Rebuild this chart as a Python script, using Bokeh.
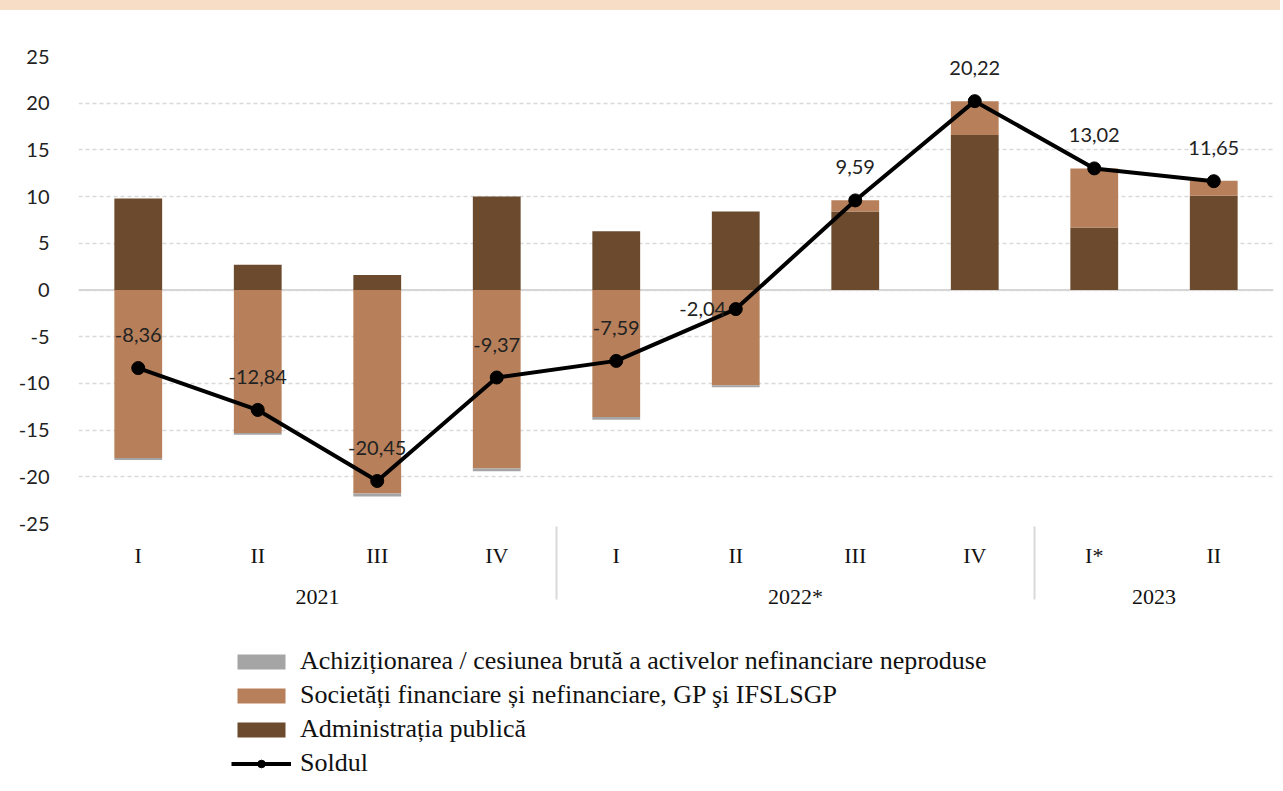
from bokeh.plotting import figure
from bokeh.models import (FactorRange, ColumnDataSource, FixedTicker, Span, Legend, LegendItem,
                          PrintfTickFormatter, Div, Range1d)
from bokeh.layouts import column
from bokeh.core.properties import value
from bokeh.embed import file_html
from bokeh.resources import INLINE

years = ["2021", "2021", "2021", "2021", "2022*", "2022*", "2022*", "2022*", "2023", "2023"]
quarters = ["I", "II", "III", "IV", "I", "II", "III", "IV", "I*", "II"]

achizitionarea = [-0.2, -0.2, -0.3, -0.3, -0.3, -0.2, 0.0, 0.0, 0.0, 0.0]
societati = [-18.0, -15.3, -21.8, -19.1, -13.6, -10.2, 1.2, 3.6, 6.3, 1.6]
administratia = [9.8, 2.7, 1.6, 10.0, 6.3, 8.4, 8.4, 16.6, 6.7, 10.1]
soldul = [-8.36, -12.84, -20.45, -9.37, -7.59, -2.04, 9.59, 20.22, 13.02, 11.65]

y_ticks = [-25, -20, -15, -10, -5, 0, 5, 10, 15, 20, 25]

names = ["Achiziționarea / cesiunea brută a activelor nefinanciare neproduse",
         "Societăți financiare și nefinanciare, GP şi IFSLSGP",
         "Administrația publică",
         "Soldul"]
colors = {"adm": "#6b4a2e", "soc": "#b7805a", "gray": "#a5a5a5"}

factors = list(zip(years, quarters))

series = [("adm", administratia), ("soc", societati), ("gray", achizitionarea)]
stack = {}
pos = [0.0] * len(factors)
neg = [0.0] * len(factors)
for key, vals in series:
    bottoms, tops = [], []
    for i, v in enumerate(vals):
        if v >= 0:
            bottoms.append(pos[i]); tops.append(pos[i] + v); pos[i] += v
        else:
            bottoms.append(neg[i]); tops.append(neg[i] + v); neg[i] += v
    stack[key] = (bottoms, tops)

W = 1280
p = figure(x_range=FactorRange(factors=factors, factor_padding=0, group_padding=0,
                               subgroup_padding=0, range_padding=0),
           y_range=(-25, 25), width=W, height=620, output_backend="svg",
           toolbar_location=None, min_border_left=78, min_border_right=7,
           min_border_top=46, min_border_bottom=107)
p.outline_line_color = None
p.background_fill_color = "white"
p.border_fill_color = "white"

p.add_layout(Span(location=0, dimension="width", line_color="#d6d6d6", line_width=2, level="underlay"))

renderers = {}
for key in ["adm", "soc", "gray"]:
    b, t = stack[key]
    src = ColumnDataSource(dict(x=factors, bottom=b, top=t))
    renderers[key] = p.vbar(x="x", bottom="bottom", top="top", width=0.4, source=src,
                            fill_color=colors[key], line_color=None)

src_line = ColumnDataSource(dict(x=factors, y=soldul))
lr = p.line(x="x", y="y", source=src_line, line_color="black", line_width=4)
cr = p.scatter(x="x", y="y", source=src_line, size=13, fill_color="black", line_color="black")

idx_left = [5]
lbl_main = ColumnDataSource(dict(x=[f for i, f in enumerate(factors) if i not in idx_left],
                                 y=[v for i, v in enumerate(soldul) if i not in idx_left],
                                 lbl=[f"{v:.2f}".replace(".", ",") for i, v in enumerate(soldul) if i not in idx_left]))
lbl_left = ColumnDataSource(dict(x=[factors[i] for i in idx_left],
                                 y=[soldul[i] for i in idx_left],
                                 lbl=[f"{soldul[i]:.2f}".replace(".", ",") for i in idx_left]))
p.text(x="x", y="y", text="lbl", source=lbl_main, text_align="center", text_baseline="middle",
       y_offset=-33, text_font=value("Lato"), text_font_size="20px", text_color="#222222")
p.text(x="x", y="y", text="lbl", source=lbl_left, text_align="center", text_baseline="middle",
       x_offset=-33, y_offset=0, text_font=value("Lato"), text_font_size="20px", text_color="#222222")

p.yaxis.ticker = FixedTicker(ticks=y_ticks)
p.yaxis.formatter = PrintfTickFormatter(format="%d")
p.yaxis.axis_line_color = None
p.yaxis.major_tick_line_color = None
p.yaxis.minor_tick_line_color = None
p.yaxis.major_label_standoff = 23
p.yaxis.major_label_text_font = "Lato"
p.yaxis.major_label_text_font_size = "20px"
p.yaxis.major_label_text_color = "#222222"

p.ygrid.ticker = FixedTicker(ticks=y_ticks)
p.ygrid.grid_line_color = "#d9d9d9"
p.ygrid.grid_line_dash = "4 3"
p.ygrid.grid_line_width = 1.5
p.xgrid.grid_line_color = None

xa = p.xaxis[0]
xa.axis_line_color = None
xa.major_tick_line_color = None
xa.minor_tick_line_color = None
xa.major_label_text_font = "Liberation Serif"
xa.major_label_text_font_size = "22px"
xa.major_label_text_color = "#111111"
xa.major_label_standoff = 13
xa.group_text_font = "Liberation Serif"
xa.group_text_font_size = "22px"
xa.group_text_color = "#111111"
xa.group_text_font_style = "normal"
xa.separator_line_color = "#d9d9d9"
xa.separator_line_width = 2

# legend figure below the chart (proxy renderers sit outside the visible range)
p2 = figure(width=W, height=160, output_backend="svg", toolbar_location=None,
            x_axis_location=None, y_axis_location=None, min_border=0,
            x_range=Range1d(0, 1), y_range=Range1d(0, 1))
p2.outline_line_color = None
p2.xgrid.grid_line_color = None
p2.ygrid.grid_line_color = None
proxy = ColumnDataSource(dict(x=[-10], top=[-10], y=[-10]))
lg_gray = p2.vbar(x="x", top="top", width=0.4, source=proxy, fill_color=colors["gray"], line_color=None)
lg_soc = p2.vbar(x="x", top="top", width=0.4, source=proxy, fill_color=colors["soc"], line_color=None)
lg_adm = p2.vbar(x="x", top="top", width=0.4, source=proxy, fill_color=colors["adm"], line_color=None)
lg_line = p2.line(x="x", y="y", source=proxy, line_color="black", line_width=4)
lg_pt = p2.scatter(x="x", y="y", source=proxy, size=13, fill_color="black", line_color="black")

legend = Legend(items=[
    LegendItem(label=names[0], renderers=[lg_gray]),
    LegendItem(label=names[1], renderers=[lg_soc]),
    LegendItem(label=names[2], renderers=[lg_adm]),
    LegendItem(label=names[3], renderers=[lg_line, lg_pt]),
], location=(153, 12), orientation="vertical")
legend.label_text_font = "Liberation Serif"
legend.label_text_font_size = "26px"
legend.label_text_color = "#111111"
legend.glyph_width = 60
legend.glyph_height = 19
legend.label_height = 30
legend.spacing = 4
legend.padding = 0
legend.margin = 0
legend.border_line_color = None
legend.background_fill_alpha = 0
legend.label_standoff = 9
p2.add_layout(legend)

band = Div(width=W, height=10, margin=0, styles={"background-color": "#f7dcc6"})
layout = column(band, p, p2, spacing=0)

open("out.html", "w").write(file_html(layout, INLINE))
